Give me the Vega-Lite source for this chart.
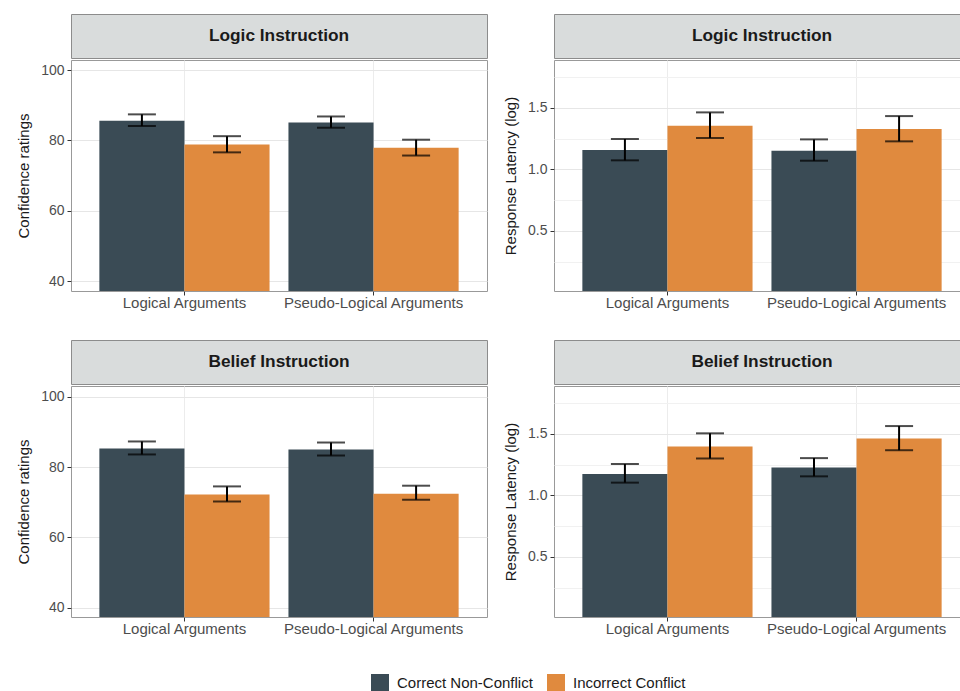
{
  "$schema": "https://vega.github.io/schema/vega-lite/v6.json",
  "padding": {"left": 16, "top": 13, "right": 0, "bottom": 0},
  "background": "white",
  "datasets": {
    "d": [
      {"instruction": "Logic Instruction", "measure": "conf", "argument": "Logical Arguments", "group": "Correct Non-Conflict", "value": 85.6, "lo": 84.1, "hi": 87.4},
      {"instruction": "Logic Instruction", "measure": "conf", "argument": "Logical Arguments", "group": "Incorrect Conflict", "value": 78.8, "lo": 76.6, "hi": 81.2},
      {"instruction": "Logic Instruction", "measure": "conf", "argument": "Pseudo-Logical Arguments", "group": "Correct Non-Conflict", "value": 85.1, "lo": 83.6, "hi": 86.8},
      {"instruction": "Logic Instruction", "measure": "conf", "argument": "Pseudo-Logical Arguments", "group": "Incorrect Conflict", "value": 77.9, "lo": 75.7, "hi": 80.2},
      {"instruction": "Belief Instruction", "measure": "conf", "argument": "Logical Arguments", "group": "Correct Non-Conflict", "value": 85.3, "lo": 83.6, "hi": 87.3},
      {"instruction": "Belief Instruction", "measure": "conf", "argument": "Logical Arguments", "group": "Incorrect Conflict", "value": 72.2, "lo": 70.2, "hi": 74.5},
      {"instruction": "Belief Instruction", "measure": "conf", "argument": "Pseudo-Logical Arguments", "group": "Correct Non-Conflict", "value": 85.0, "lo": 83.3, "hi": 87.0},
      {"instruction": "Belief Instruction", "measure": "conf", "argument": "Pseudo-Logical Arguments", "group": "Incorrect Conflict", "value": 72.4, "lo": 70.7, "hi": 74.7},
      {"instruction": "Logic Instruction", "measure": "lat", "argument": "Logical Arguments", "group": "Correct Non-Conflict", "value": 1.157, "lo": 1.073, "hi": 1.246},
      {"instruction": "Logic Instruction", "measure": "lat", "argument": "Logical Arguments", "group": "Incorrect Conflict", "value": 1.354, "lo": 1.254, "hi": 1.462},
      {"instruction": "Logic Instruction", "measure": "lat", "argument": "Pseudo-Logical Arguments", "group": "Correct Non-Conflict", "value": 1.151, "lo": 1.070, "hi": 1.243},
      {"instruction": "Logic Instruction", "measure": "lat", "argument": "Pseudo-Logical Arguments", "group": "Incorrect Conflict", "value": 1.327, "lo": 1.227, "hi": 1.432},
      {"instruction": "Belief Instruction", "measure": "lat", "argument": "Logical Arguments", "group": "Correct Non-Conflict", "value": 1.173, "lo": 1.103, "hi": 1.254},
      {"instruction": "Belief Instruction", "measure": "lat", "argument": "Logical Arguments", "group": "Incorrect Conflict", "value": 1.396, "lo": 1.299, "hi": 1.503},
      {"instruction": "Belief Instruction", "measure": "lat", "argument": "Pseudo-Logical Arguments", "group": "Correct Non-Conflict", "value": 1.226, "lo": 1.154, "hi": 1.302},
      {"instruction": "Belief Instruction", "measure": "lat", "argument": "Pseudo-Logical Arguments", "group": "Incorrect Conflict", "value": 1.462, "lo": 1.366, "hi": 1.562}
    ]
  },
  "vconcat": [
    {
      "hconcat": [
        {
          "spacing": 0,
          "vconcat": [
            {"width": 416, "height": 44, "data": {"values": [{"t": "Logic Instruction"}]}, "mark": {"type": "text", "fontSize": 17.3, "fontWeight": "bold", "color": "#1a1a1a"}, "encoding": {"text": {"field": "t", "type": "nominal"}}, "view": {"fill": "#d9dcdc", "stroke": "#8c8c8c"}},
            {
              "width": 416, "height": 231,
              "data": {"name": "d"},
              "transform": [{"filter": "datum.instruction === 'Logic Instruction' && datum.measure === 'conf'"}],
              "encoding": {
                "x": {"field": "argument", "type": "nominal", "title": null, "sort": ["Logical Arguments", "Pseudo-Logical Arguments"], "scale": {"paddingInner": 0.1, "paddingOuter": 0.15}},
                "xOffset": {"field": "group", "type": "nominal", "scale": {"paddingInner": 0, "paddingOuter": 0}}
              },
              "layer": [
                {"mark": {"type": "bar", "clip": true}, "encoding": {
                  "y": {"field": "value", "type": "quantitative", "title": "Confidence ratings", "scale": {"domain": [37.2, 102.85], "nice": false, "zero": false},
                    "axis": {"values": [40, 50, 60, 70, 80, 90, 100], "labelExpr": "datum.value % 20 === 0 ? datum.label : ''", "tickOpacity": {"condition": {"test": "datum.value % 20 === 0", "value": 1}, "value": 0}, "gridColor": {"condition": {"test": "datum.value % 20 === 0", "value": "#e6e6e6"}, "value": "#f1f1f1"}}},
                  "color": {"field": "group", "type": "nominal", "scale": {"domain": ["Correct Non-Conflict", "Incorrect Conflict"], "range": ["#3a4b55", "#e08a3e"]}, "legend": {"title": null}}
                }},
                {"mark": {"type": "rule", "strokeWidth": 2, "color": "black"}, "encoding": {"y": {"field": "lo", "type": "quantitative", "title": "Confidence ratings", "scale": {"domain": [37.2, 102.85], "nice": false, "zero": false}}, "y2": {"field": "hi"}}},
                {"mark": {"type": "tick", "size": 28, "thickness": 2, "color": "black", "orient": "horizontal"}, "encoding": {"y": {"field": "lo", "type": "quantitative", "title": "Confidence ratings", "scale": {"domain": [37.2, 102.85], "nice": false, "zero": false}}}},
                {"mark": {"type": "tick", "size": 28, "thickness": 2, "color": "black", "orient": "horizontal"}, "encoding": {"y": {"field": "hi", "type": "quantitative", "title": "Confidence ratings", "scale": {"domain": [37.2, 102.85], "nice": false, "zero": false}}}}
              ]
            }
          ]
        },
        {
          "spacing": 0,
          "vconcat": [
            {"width": 416, "height": 44, "data": {"values": [{"t": "Logic Instruction"}]}, "mark": {"type": "text", "fontSize": 17.3, "fontWeight": "bold", "color": "#1a1a1a"}, "encoding": {"text": {"field": "t", "type": "nominal"}}, "view": {"fill": "#d9dcdc", "stroke": "#8c8c8c"}},
            {
              "width": 416, "height": 231,
              "data": {"name": "d"},
              "transform": [{"filter": "datum.instruction === 'Logic Instruction' && datum.measure === 'lat'"}],
              "encoding": {
                "x": {"field": "argument", "type": "nominal", "title": null, "sort": ["Logical Arguments", "Pseudo-Logical Arguments"], "scale": {"paddingInner": 0.1, "paddingOuter": 0.15}},
                "xOffset": {"field": "group", "type": "nominal", "scale": {"paddingInner": 0, "paddingOuter": 0}}
              },
              "resolve": {"axis": {"y": "independent"}},
              "layer": [
                {"mark": {"type": "bar", "clip": true}, "encoding": {
                  "y": {"field": "value", "type": "quantitative", "title": "Response Latency (log)", "scale": {"domain": [0.013, 1.887], "nice": false, "zero": false},
                    "axis": {"values": [0.5, 1, 1.5], "format": ".1f", "gridColor": "#e6e6e6"}},
                  "color": {"field": "group", "type": "nominal", "scale": {"domain": ["Correct Non-Conflict", "Incorrect Conflict"], "range": ["#3a4b55", "#e08a3e"]}, "legend": {"title": null}}
                }},
                {"mark": {"type": "rule", "strokeWidth": 2, "color": "black"}, "encoding": {"y": {"field": "lo", "type": "quantitative", "title": null, "scale": {"domain": [0.013, 1.887], "nice": false, "zero": false}, "axis": {"orient": "left", "values": [0.25, 0.75, 1.25, 1.75], "labels": false, "ticks": false, "domain": false, "grid": true, "gridColor": "#f1f1f1", "zindex": 0}}, "y2": {"field": "hi"}}},
                {"mark": {"type": "tick", "size": 28, "thickness": 2, "color": "black", "orient": "horizontal"}, "encoding": {"y": {"field": "lo", "type": "quantitative", "scale": {"domain": [0.013, 1.887], "nice": false, "zero": false}, "axis": null}}},
                {"mark": {"type": "tick", "size": 28, "thickness": 2, "color": "black", "orient": "horizontal"}, "encoding": {"y": {"field": "hi", "type": "quantitative", "scale": {"domain": [0.013, 1.887], "nice": false, "zero": false}, "axis": null}}}
              ]
            }
          ]
        }
      ],
      "spacing": 15
    },
    {
      "hconcat": [
        {
          "spacing": 0,
          "vconcat": [
            {"width": 416, "height": 44, "data": {"values": [{"t": "Belief Instruction"}]}, "mark": {"type": "text", "fontSize": 17.3, "fontWeight": "bold", "color": "#1a1a1a"}, "encoding": {"text": {"field": "t", "type": "nominal"}}, "view": {"fill": "#d9dcdc", "stroke": "#8c8c8c"}},
            {
              "width": 416, "height": 231,
              "data": {"name": "d"},
              "transform": [{"filter": "datum.instruction === 'Belief Instruction' && datum.measure === 'conf'"}],
              "encoding": {
                "x": {"field": "argument", "type": "nominal", "title": null, "sort": ["Logical Arguments", "Pseudo-Logical Arguments"], "scale": {"paddingInner": 0.1, "paddingOuter": 0.15}},
                "xOffset": {"field": "group", "type": "nominal", "scale": {"paddingInner": 0, "paddingOuter": 0}}
              },
              "layer": [
                {"mark": {"type": "bar", "clip": true}, "encoding": {
                  "y": {"field": "value", "type": "quantitative", "title": "Confidence ratings", "scale": {"domain": [37.3, 103.1], "nice": false, "zero": false},
                    "axis": {"values": [40, 50, 60, 70, 80, 90, 100], "labelExpr": "datum.value % 20 === 0 ? datum.label : ''", "tickOpacity": {"condition": {"test": "datum.value % 20 === 0", "value": 1}, "value": 0}, "gridColor": {"condition": {"test": "datum.value % 20 === 0", "value": "#e6e6e6"}, "value": "#f1f1f1"}}},
                  "color": {"field": "group", "type": "nominal", "scale": {"domain": ["Correct Non-Conflict", "Incorrect Conflict"], "range": ["#3a4b55", "#e08a3e"]}, "legend": {"title": null}}
                }},
                {"mark": {"type": "rule", "strokeWidth": 2, "color": "black"}, "encoding": {"y": {"field": "lo", "type": "quantitative", "title": "Confidence ratings", "scale": {"domain": [37.3, 103.1], "nice": false, "zero": false}}, "y2": {"field": "hi"}}},
                {"mark": {"type": "tick", "size": 28, "thickness": 2, "color": "black", "orient": "horizontal"}, "encoding": {"y": {"field": "lo", "type": "quantitative", "title": "Confidence ratings", "scale": {"domain": [37.3, 103.1], "nice": false, "zero": false}}}},
                {"mark": {"type": "tick", "size": 28, "thickness": 2, "color": "black", "orient": "horizontal"}, "encoding": {"y": {"field": "hi", "type": "quantitative", "title": "Confidence ratings", "scale": {"domain": [37.3, 103.1], "nice": false, "zero": false}}}}
              ]
            }
          ]
        },
        {
          "spacing": 0,
          "vconcat": [
            {"width": 416, "height": 44, "data": {"values": [{"t": "Belief Instruction"}]}, "mark": {"type": "text", "fontSize": 17.3, "fontWeight": "bold", "color": "#1a1a1a"}, "encoding": {"text": {"field": "t", "type": "nominal"}}, "view": {"fill": "#d9dcdc", "stroke": "#8c8c8c"}},
            {
              "width": 416, "height": 231,
              "data": {"name": "d"},
              "transform": [{"filter": "datum.instruction === 'Belief Instruction' && datum.measure === 'lat'"}],
              "encoding": {
                "x": {"field": "argument", "type": "nominal", "title": null, "sort": ["Logical Arguments", "Pseudo-Logical Arguments"], "scale": {"paddingInner": 0.1, "paddingOuter": 0.15}},
                "xOffset": {"field": "group", "type": "nominal", "scale": {"paddingInner": 0, "paddingOuter": 0}}
              },
              "resolve": {"axis": {"y": "independent"}},
              "layer": [
                {"mark": {"type": "bar", "clip": true}, "encoding": {
                  "y": {"field": "value", "type": "quantitative", "title": "Response Latency (log)", "scale": {"domain": [0.013, 1.887], "nice": false, "zero": false},
                    "axis": {"values": [0.5, 1, 1.5], "format": ".1f", "gridColor": "#e6e6e6"}},
                  "color": {"field": "group", "type": "nominal", "scale": {"domain": ["Correct Non-Conflict", "Incorrect Conflict"], "range": ["#3a4b55", "#e08a3e"]}, "legend": {"title": null}}
                }},
                {"mark": {"type": "rule", "strokeWidth": 2, "color": "black"}, "encoding": {"y": {"field": "lo", "type": "quantitative", "title": null, "scale": {"domain": [0.013, 1.887], "nice": false, "zero": false}, "axis": {"orient": "left", "values": [0.25, 0.75, 1.25, 1.75], "labels": false, "ticks": false, "domain": false, "grid": true, "gridColor": "#f1f1f1", "zindex": 0}}, "y2": {"field": "hi"}}},
                {"mark": {"type": "tick", "size": 28, "thickness": 2, "color": "black", "orient": "horizontal"}, "encoding": {"y": {"field": "lo", "type": "quantitative", "scale": {"domain": [0.013, 1.887], "nice": false, "zero": false}, "axis": null}}},
                {"mark": {"type": "tick", "size": 28, "thickness": 2, "color": "black", "orient": "horizontal"}, "encoding": {"y": {"field": "hi", "type": "quantitative", "scale": {"domain": [0.013, 1.887], "nice": false, "zero": false}, "axis": null}}}
              ]
            }
          ]
        }
      ],
      "spacing": 15
    }
  ],
  "spacing": 28,
  "config": {
    "font": "Liberation Sans",
    "view": {"stroke": "#999999", "strokeWidth": 1},
    "axis": {"labelFontSize": 14, "labelColor": "#4d4d4d", "titleFontSize": 15, "titleFontWeight": "normal", "titleColor": "#1a1a1a", "tickColor": "#333333", "tickSize": 4, "labelPadding": 3, "domain": false, "gridColor": "#e8e8e8", "labelLimit": 400},
    "axisX": {"grid": true, "bandPosition": 0.5, "labelAngle": 0, "labelFontSize": 15, "labelPadding": 0, "gridColor": "#ececec"},
    "axisY": {"titlePadding": 9},
    "legend": {"orient": "none", "legendX": 300, "legendY": 660, "direction": "horizontal", "symbolType": "square", "symbolSize": 324, "symbolStrokeWidth": 0, "symbolOpacity": 1, "labelFontSize": 15, "labelColor": "#1a1a1a", "columnPadding": 14, "labelOffset": 8}
  }
}
